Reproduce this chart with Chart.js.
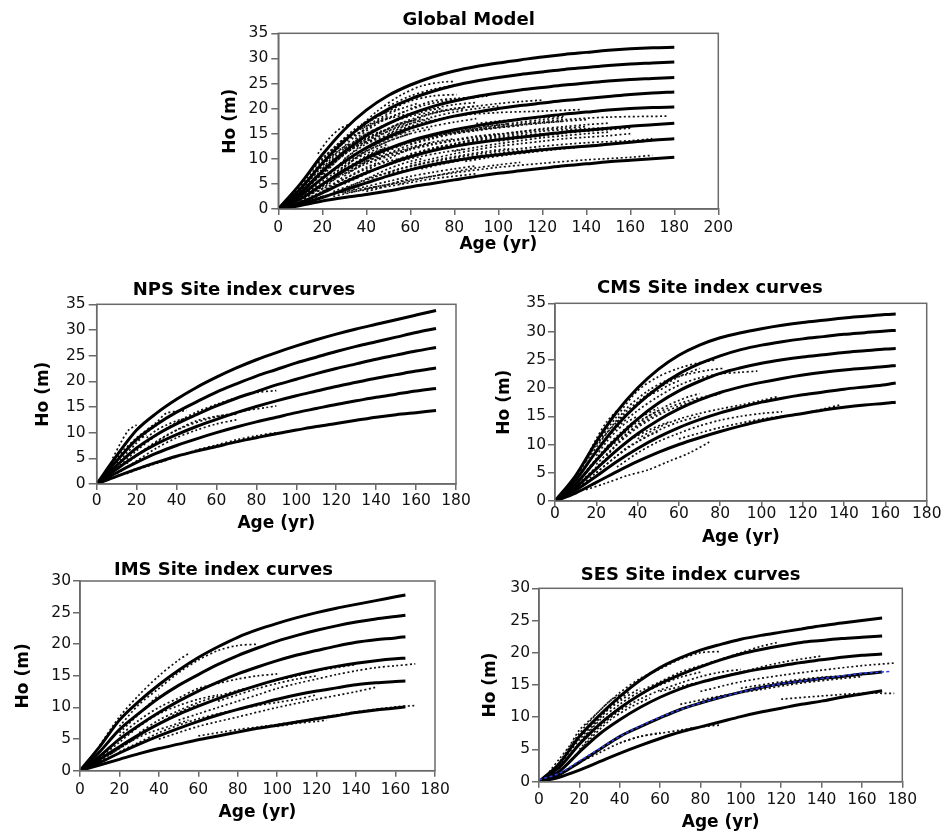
<!DOCTYPE html>
<html><head><meta charset="utf-8">
<script src="https://cdn.jsdelivr.net/npm/chart.js@4.4.1/dist/chart.umd.min.js"></script>
<style>
html,body{margin:0;padding:0;background:#fff;width:944px;height:836px;overflow:hidden;position:relative}
canvas{position:absolute}
</style></head><body>
<canvas id="cGlobal"></canvas>
<canvas id="cNPS"></canvas>
<canvas id="cCMS"></canvas>
<canvas id="cIMS"></canvas>
<canvas id="cSES"></canvas>
<script>
// ---------------- DATA ----------------
const xTicksGlobal = [0,20,40,60,80,100,120,140,160,180,200];
const xTicksRegion = [0,20,40,60,80,100,120,140,160,180];
const yTicks35 = [0,5,10,15,20,25,30,35];
const yTicks30 = [0,5,10,15,20,25,30];

// Global model: site index curves (age 0..180 step 10)
const globalAges = [0,10,20,30,40,50,60,70,80,90,100,110,120,130,140,150,160,170,180];
const globalCurves = [
  [0,5.0,10.8,15.8,19.7,22.6,24.7,26.3,27.5,28.4,29.1,29.7,30.3,30.8,31.2,31.6,31.9,32.1,32.2],
  [0,4.0,9.1,13.6,17.2,19.9,21.9,23.4,24.6,25.5,26.2,26.8,27.3,27.8,28.2,28.6,28.9,29.1,29.3],
  [0,3.2,7.5,11.4,14.6,17.0,18.9,20.4,21.5,22.4,23.1,23.7,24.2,24.7,25.1,25.5,25.8,26.0,26.2],
  [0,2.6,6.1,9.4,12.2,14.4,16.1,17.4,18.5,19.3,20.0,20.6,21.1,21.6,22.0,22.4,22.8,23.1,23.3],
  [0,2.0,4.9,7.7,10.1,12.0,13.6,14.8,15.8,16.6,17.3,17.9,18.4,18.9,19.3,19.7,20.0,20.2,20.3],
  [0,1.3,3.2,5.3,7.2,8.9,10.4,11.6,12.5,13.2,13.8,14.3,14.8,15.3,15.7,16.1,16.5,16.8,17.1],
  [0,1.0,2.3,3.8,5.2,6.6,7.8,8.8,9.6,10.3,10.8,11.3,11.8,12.2,12.5,12.9,13.3,13.7,14.0],
  [0,0.7,1.6,2.3,2.9,3.6,4.4,5.1,5.8,6.5,7.1,7.6,8.1,8.6,9.0,9.4,9.7,10.0,10.3]
];
// Global model: observed stem profiles [age, height]
const globalObs = [
  [[5,1.5],[15,6],[25,11],[35,15.5],[45,19.5],[55,22.5],[65,24.5],[75,25.3],[80,25.4]],
  [[10,4],[20,9],[30,13.5],[40,17],[50,19.5],[60,21.5],[70,22.5],[81,22.8]],
  [[10,5],[20,10],[30,14],[40,16.5],[50,18],[60,19],[70,20],[80,20.8],[90,21.2]],
  [[20,8],[30,12],[40,15],[50,17],[60,18.5],[70,19.3],[80,20],[90,20.5],[100,21],[110,21.4],[120,21.7]],
  [[40,13],[60,16.5],[80,18.5],[100,19.2],[120,19.5],[138,19.8]],
  [[50,12],[70,14.5],[90,16],[110,17],[130,17.8],[150,18.3],[177,18.5]],
  [[60,11],[80,13],[100,14.5],[120,15.5],[140,16],[160,16.4]],
  [[40,6],[60,8.5],[80,10.2],[100,11.5],[120,12.5],[140,13.2],[160,13.6],[170,14]],
  [[40,4],[60,5.8],[80,7.2],[100,8.3],[120,9.1],[140,9.8],[160,10.3],[170,10.7]],
  [[30,3.2],[50,4.5],[70,6],[90,7]],
  [[15,2],[25,3],[35,3.8],[45,4.5],[55,5.2]],
  [[10,2],[20,4],[30,6],[40,8],[50,9.5],[60,10.5]],
  [[10,3],[20,6],[30,9],[40,11.5],[50,13.5],[60,15],[70,16]],
  [[10,3.5],[20,7.5],[30,11],[40,13.5],[50,15.5],[60,17],[70,18]],
  [[15,5],[25,9],[35,12.5],[45,15],[55,17],[65,18.5],[75,19.5],[85,20]],
  [[20,6],[30,9.5],[40,12],[50,14],[60,15.5],[70,16.5],[80,17.3],[90,18]],
  [[25,5],[35,8],[45,10.5],[55,12.5],[65,14],[75,15],[85,15.8],[95,16.5],[105,17]],
  [[30,5],[40,7],[50,9],[60,10.5],[70,11.8],[80,12.8],[90,13.6],[100,14.2],[110,14.7],[120,15]],
  [[25,3.5],[35,5],[45,6.5],[55,8],[65,9],[75,10],[85,10.8],[95,11.5],[105,12]],
  [[20,2.5],[30,3.5],[40,4.5],[50,5.5],[60,6.5],[70,7.3],[80,8],[90,8.6]],
  [[5,2],[15,7],[25,12],[35,16],[45,18.5],[55,20]],
  [[10,2.5],[20,5],[30,7.5],[40,9.5],[50,11],[60,12.3],[70,13.3],[80,14]],
  [[30,7],[40,10],[50,12],[60,13.5],[70,14.5],[80,15.2],[90,15.8],[100,16.3],[110,16.8],[120,17.2],[130,17.5]],
  [[70,12],[80,13],[90,14],[100,14.8],[110,15.4],[120,16],[130,16.4],[140,16.8],[150,17.1]],
  [[60,9],[70,10],[80,11],[90,11.8],[100,12.5],[110,13],[120,13.5],[130,14],[140,14.3],[150,14.6],[160,15]],
  [[35,14],[45,17],[55,19],[65,20.5],[75,21.5],[85,22],[95,22.5]],
  [[18,11],[23,14],[28,16],[33,17]],
  [[15,2.5],[25,4.5],[35,6.5],[45,8],[55,9.5],[65,10.5],[75,11.3],[85,12]],
  [[5,1],[15,3.5],[25,6.5],[35,9],[45,11],[55,12.8],[65,14],[75,15]],
  [[40,9],[50,10.5],[60,11.8],[70,12.8],[80,13.6],[90,14.3],[100,14.9],[110,15.4],[120,15.8],[130,16.1],[140,16.4]],
  [[80,15],[90,15.6],[100,16.2],[110,16.7],[120,17.1],[130,17.5],[140,17.8]],
  [[50,7],[60,8],[70,9],[80,9.8],[90,10.5],[100,11.1],[110,11.6],[120,12]],
  [[30,10],[40,13],[50,15.5],[60,17.5],[70,19],[80,20],[90,20.5]],
  [[20,4.5],[30,7],[40,9],[50,10.8],[60,12],[70,13],[80,13.8],[90,14.5],[100,15]],
  [[5,1],[10,3],[15,5.5],[20,8],[25,10.5],[30,12.5],[35,14.5],[40,16],[45,17.5],[50,18.5]],
  [[10,1.5],[15,3],[20,4.5],[25,6],[30,7.5],[35,9],[40,10.5],[45,11.5],[50,12.5]],
  [[15,4],[20,5.5],[25,7],[30,8.5],[35,10],[40,11],[45,12],[50,13]],
  [[20,7],[25,9],[30,11],[35,12.5],[40,14],[45,15],[50,16],[55,17],[60,17.5],[65,18]],
  [[25,7],[30,8.5],[35,10],[40,11.5],[45,12.5],[50,13.5],[55,14.3],[60,15]],
  [[30,12],[35,13.5],[40,15],[45,16],[50,17],[55,18],[60,18.8],[65,19.3],[70,19.8],[75,20]],
  [[30,4],[35,5],[40,6],[45,7],[50,8],[55,8.8],[60,9.5],[65,10]],
  [[35,6],[40,7.5],[45,9],[50,10],[55,11],[60,12],[65,12.7],[70,13.3]],
  [[40,12],[45,13],[50,14],[55,15],[60,16],[65,16.8],[70,17.5],[80,18.5],[90,19.2],[100,19.8]],
  [[45,10],[50,11],[55,12],[60,12.8],[70,14],[80,15],[90,15.7],[100,16.2],[110,16.6]],
  [[50,15],[60,17],[70,18.3],[80,19.3],[90,20],[100,20.5]],
  [[55,5],[60,5.6],[70,6.5],[80,7.4],[90,8.2],[100,8.8],[110,9.3]],
  [[60,13],[70,14.2],[80,15.2],[90,16],[100,16.7],[110,17.3],[120,17.8],[130,18.2]],
  [[80,11.5],[90,12.3],[100,13],[110,13.6],[120,14.2],[130,14.6],[140,15],[150,15.3]],
  [[85,9.5],[95,10.2],[105,10.8],[115,11.3],[125,11.8],[135,12.2]],
  [[90,17],[100,17.5],[110,17.9],[120,18.2],[130,18.5]],
  [[12,2],[18,4],[24,6],[30,8],[36,9.5],[42,11],[48,12]],
  [[8,2],[14,4.5],[20,7],[26,9.5],[32,11.5],[38,13],[44,14]],
  [[22,10],[28,12.5],[34,14.5],[40,16],[46,17.5],[52,18.5],[58,19.5]],
  [[40,3.5],[45,4],[50,4.8],[55,5.5],[60,6]],
  [[25,2.5],[30,3],[35,3.5],[40,4],[45,4.5]],
  [[60,20],[70,21.5],[80,22],[90,22.3]],
  [[50,20.5],[60,22.5],[70,23.8],[78,24.5]],
  [[15,8],[20,10],[25,12],[30,13.5],[35,14.8],[40,15.8]],
  [[65,8],[75,9],[85,9.8],[95,10.5],[105,11],[115,11.5],[125,12],[135,12.4],[145,12.8],[155,13.1]],
  [[100,13.5],[110,14.1],[120,14.6],[130,15.1],[140,15.5],[150,15.8],[160,16.1]],
  [[12,3],[17,5],[22,7.5],[27,9.8],[32,11.8],[37,13.3],[42,14.6],[47,15.6]],
  [[18,3.5],[23,5],[28,6.8],[33,8.4],[38,9.8],[43,11],[48,12]],
  [[22,5.5],[27,7.2],[32,9],[37,10.8],[42,12.3],[47,13.5],[52,14.5],[57,15.3]],
  [[28,9],[33,11],[38,12.8],[43,14.3],[48,15.5],[53,16.5],[58,17.2],[63,17.8]],
  [[33,7.5],[38,9],[43,10.3],[48,11.5],[53,12.5],[58,13.3],[63,14]],
  [[8,2.8],[13,5.2],[18,7.8],[23,10],[28,11.8],[33,13.2]],
  [[45,8],[50,9],[55,10],[60,10.8],[65,11.5],[70,12.1],[75,12.6]],
  [[38,16],[43,17.3],[48,18.5],[53,19.5],[58,20.3],[63,21]],
  [[20,3.5],[25,4.8],[30,6],[35,7.2],[40,8.3],[45,9.2]],
  [[85,12.8],[95,13.5],[105,14.1],[115,14.6],[125,15.1],[135,15.5],[145,15.9]]
];

// NPS (age 0..170 step 10)
const npsAges = [0,10,20,30,40,50,60,70,80,90,100,110,120,130,140,150,160,170];
const npsCurves = [
  [0,5.5,10.5,13.8,16.5,18.8,20.8,22.6,24.2,25.6,26.9,28.1,29.2,30.2,31.1,32.0,32.9,33.8],
  [0,4.5,8.7,11.6,14.0,16.0,17.9,19.5,21.0,22.3,23.6,24.7,25.8,26.8,27.7,28.6,29.5,30.3],
  [0,3.6,7.0,9.6,11.7,13.5,15.2,16.7,18.0,19.3,20.4,21.5,22.5,23.4,24.3,25.1,25.9,26.6],
  [0,2.9,5.6,7.8,9.6,11.2,12.6,13.9,15.1,16.2,17.2,18.1,19.0,19.8,20.6,21.3,22.0,22.6],
  [0,2.2,4.2,6.0,7.5,8.8,10.0,11.1,12.1,13.0,13.9,14.7,15.5,16.2,16.9,17.5,18.1,18.6],
  [0,1.5,2.9,4.2,5.4,6.4,7.3,8.2,9.0,9.8,10.5,11.2,11.8,12.4,13.0,13.5,13.9,14.3]
];
const npsObs = [
  [[8,5],[12,8],[16,10.5],[20,11.5]],
  [[10,3],[20,6.5],[30,9.5],[40,12],[50,14],[60,15.5],[70,16.8],[80,17.8],[90,18.2]],
  [[15,4],[25,7],[35,9.5],[45,11.3],[55,12.6],[65,13.5],[75,14.3],[85,14.9],[90,15.2]],
  [[10,2],[20,4.5],[30,7],[40,9],[50,10.5],[60,11.7],[70,12.5]],
  [[15,2],[20,2.8],[30,4],[40,5.3],[50,6.6],[60,7.6],[70,8.6],[80,9.4],[90,10]],
  [[12,6],[20,9],[30,12],[35,13.8],[45,14.3]],
  [[5,2.5],[10,5],[15,7],[20,8.5],[25,9.5]],
  [[10,1.5],[15,2.2],[20,3],[30,4.2],[35,4.8]],
  [[20,5.5],[30,8.2],[40,10.5],[50,12.3],[60,13.2],[70,13.6]],
  [[10,4],[15,6],[20,8],[25,10],[30,11.5]],
  [[25,9],[30,10.5],[35,11.5],[40,12.3],[45,12.8]]
];

// CMS (age 0..160 step 10, then 165)
const cmsAges = [0,10,20,30,40,50,60,70,80,90,100,110,120,130,140,150,160,165];
const cmsCurves = [
  [0,4.5,10.5,15.8,20.0,23.3,25.8,27.6,28.9,29.8,30.5,31.1,31.6,32.0,32.4,32.7,33.0,33.1],
  [0,3.7,8.8,13.4,17.1,20.1,22.5,24.3,25.7,26.8,27.6,28.2,28.7,29.1,29.5,29.8,30.1,30.2],
  [0,3.0,7.2,11.1,14.5,17.3,19.5,21.2,22.6,23.6,24.4,25.0,25.5,25.9,26.3,26.6,26.9,27.0],
  [0,2.4,5.7,9.0,11.9,14.3,16.3,17.9,19.2,20.2,21.0,21.7,22.3,22.8,23.2,23.5,23.8,24.0],
  [0,1.9,4.4,7.0,9.3,11.3,13.0,14.4,15.6,16.6,17.5,18.2,18.8,19.3,19.8,20.2,20.6,20.9],
  [0,1.4,3.3,5.2,7.0,8.6,10.0,11.2,12.3,13.3,14.2,14.9,15.5,16.1,16.6,17.0,17.3,17.5]
];
const cmsObs = [
  [[10,4],[20,10],[30,15],[40,19.5],[50,22],[60,23.5],[70,24.5],[78,25]],
  [[15,7],[25,12],[35,16.5],[45,19.5],[55,21.5],[65,22.5],[75,23.2],[82,23.5]],
  [[20,9],[30,13],[40,16],[50,18.5],[60,20.5],[70,21.8],[80,22.5],[90,22.8],[98,23]],
  [[15,5],[25,9],[35,12],[45,14.5],[55,16.5],[65,17.8],[75,18.7]],
  [[20,6.5],[30,10],[40,13],[50,15.2],[60,16.8],[70,18],[80,19]],
  [[40,11],[50,13],[60,14.5],[70,15.5],[80,16.3],[90,17],[100,17.8],[108,18.5]],
  [[30,6],[40,8.5],[50,10.5],[60,12],[70,13.3],[80,14.3],[90,15],[100,15.5],[110,15.8]],
  [[60,11],[80,13],[100,14.5],[120,15.5],[138,17]],
  [[15,2],[25,3.2],[35,4.5],[45,5.5],[55,7],[65,8.5],[75,10.5]],
  [[10,2],[20,5],[30,8],[40,10.5],[50,12.5],[60,14],[70,15]],
  [[5,1.5],[10,4],[15,7.5],[20,11],[25,14],[30,16]],
  [[10,3],[20,7.5],[30,11.5],[40,14.5],[50,16.5]],
  [[20,8],[25,10.5],[30,12.5],[35,14],[40,15]],
  [[15,4],[25,7.5],[35,10.5],[45,12.5],[55,14]],
  [[10,2.5],[20,6],[30,9],[35,10.5]],
  [[25,8],[30,10],[35,12],[40,13.5],[45,15],[50,16]],
  [[20,10],[25,12],[30,14],[35,15.5],[40,17],[45,18.5],[50,19.5],[55,20.5],[60,21.3]],
  [[25,9.5],[30,11],[35,12.5],[40,14],[45,15],[50,16],[55,17],[60,17.8],[65,18.5],[70,19]],
  [[20,5],[25,6.5],[30,8],[35,9.5],[40,10.5],[45,11.5],[50,12.3]],
  [[30,14],[35,16],[40,17.5],[45,19],[50,20],[55,21],[60,22],[70,23.5]]
];

// IMS (age 0..160 step 10, then 165)
const imsAges = [0,10,20,30,40,50,60,70,80,90,100,110,120,130,140,150,160,165];
const imsCurves = [
  [0,3.8,8.0,11.0,13.6,15.9,17.9,19.6,21.1,22.3,23.3,24.2,25.0,25.7,26.3,26.9,27.5,27.8],
  [0,3.0,6.5,9.1,11.5,13.5,15.2,16.8,18.2,19.4,20.5,21.4,22.2,22.9,23.5,24.0,24.4,24.6],
  [0,2.3,5.0,7.2,9.2,11.0,12.6,14.0,15.3,16.4,17.4,18.3,19.0,19.7,20.3,20.7,21.0,21.2],
  [0,1.8,3.8,5.7,7.4,8.9,10.2,11.4,12.5,13.5,14.4,15.2,15.9,16.5,17.0,17.4,17.7,17.8],
  [0,1.3,2.8,4.2,5.5,6.7,7.8,8.8,9.7,10.5,11.3,12.0,12.6,13.1,13.6,13.9,14.1,14.2],
  [0,0.9,1.8,2.7,3.5,4.2,4.9,5.5,6.1,6.7,7.2,7.7,8.2,8.7,9.2,9.6,9.9,10.1]
];
const imsObs = [
  [[10,4],[20,8.5],[30,12],[40,15],[50,17.5],[55,18.5]],
  [[20,7],[30,10.5],[40,13],[50,15.5],[60,17.5],[70,19],[80,19.8],[90,20]],
  [[20,5.5],[30,8],[40,10],[50,11.5],[60,13],[70,13.8],[80,14.5],[90,15],[100,15.3]],
  [[30,6],[40,8],[50,9.5],[60,10.8],[70,11.8],[80,12.7],[90,13.5],[100,14.3],[110,15],[120,15.8],[130,16.3],[140,16.8]],
  [[50,8],[60,9],[70,10],[80,11],[90,12],[100,13],[110,13.8],[120,14.5],[130,15.2],[140,15.8],[150,16.3],[160,16.6],[170,16.9]],
  [[40,5],[60,7],[80,8.5],[100,10],[120,11.3],[140,12.5],[150,13.2]],
  [[20,3],[30,4.5],[40,6],[50,7.2],[60,8.2],[70,9],[80,9.7],[90,10.3],[100,10.8],[110,11.3],[120,12]],
  [[60,5.5],[80,6.5],[100,7.3],[120,8.3],[140,9.3],[160,10.1],[170,10.3]],
  [[10,2],[20,4.5],[30,7],[40,9],[50,10.3],[60,11.3],[70,12]],
  [[15,2.5],[25,4.5],[35,6],[45,7],[55,8]],
  [[10,1.5],[20,3.5],[30,5.5],[40,7.5],[50,9.2],[60,10.5]],
  [[100,7],[110,7.5],[120,7.8],[125,8]],
  [[70,11],[80,12],[90,13],[100,13.8],[110,14.5],[120,15]],
  [[20,6],[25,7.5],[30,9],[35,10.5],[40,12]]
];

// SES (age 0..170 step 10)
const sesAges = [0,10,20,30,40,50,60,70,80,90,100,110,120,130,140,150,160,170];
const sesCurves = [
  [0,2.8,7.0,10.3,13.2,15.7,17.7,19.2,20.4,21.3,22.1,22.7,23.2,23.7,24.2,24.6,25.0,25.4],
  [0,2.2,5.8,8.9,11.4,13.5,15.2,16.6,17.8,18.9,19.8,20.5,21.1,21.6,21.9,22.2,22.4,22.6],
  [0,1.6,4.6,7.4,9.6,11.5,13.1,14.4,15.4,16.2,16.9,17.5,18.0,18.5,18.9,19.3,19.6,19.8],
  [0,1.1,3.0,5.0,7.0,8.5,9.9,11.2,12.2,13.1,13.9,14.6,15.2,15.6,16.0,16.3,16.7,17.0],
  [0,0.7,1.8,3.1,4.4,5.6,6.7,7.7,8.5,9.3,10.1,10.8,11.4,12.0,12.5,13.1,13.6,14.1]
];
// SES: blue dashed mean curve
const sesBlueAges = [0,10,20,30,40,50,60,70,80,90,100,110,120,130,140,150,160,174];
const sesBlue = [0.3,1.3,3.2,5.1,7.0,8.6,10.0,11.2,12.2,13.1,13.9,14.6,15.2,15.6,16.0,16.4,16.8,17.1];
const sesObs = [
  [[5,1],[10,3],[20,7.5],[30,11],[40,13.8],[50,16],[60,17.5],[70,19],[80,20],[90,20.2]],
  [[10,2],[20,6],[30,9.5],[40,12],[50,14],[60,15.5],[70,17],[80,18],[90,19],[100,20],[110,21],[118,21.6]],
  [[20,5],[30,8.5],[40,11],[50,12.8],[60,14.2],[70,15.3],[80,16.3],[90,17],[100,17.4]],
  [[60,14],[80,15.5],[100,17],[120,18.5],[140,19.5]],
  [[80,14],[100,15.5],[120,16.5],[140,17.3],[160,18],[176,18.4]],
  [[70,12],[90,13.3],[110,14.3],[130,15.3],[150,16],[160,16.3]],
  [[40,6],[50,7],[60,7.5],[70,8],[80,8.5],[90,8.8]],
  [[20,3],[30,4.5],[40,6],[50,7],[60,7.6]],
  [[120,12.8],[140,13.3],[160,13.7],[176,13.7]],
  [[5,1.5],[10,3.5],[15,5.5],[20,8],[25,9.5],[30,11],[35,12.5],[40,13.5]],
  [[10,2.5],[20,6.5],[30,10],[40,12.5],[50,14.5]],
  [[15,3],[25,6.5],[35,9.5],[45,11.5],[55,13]],
  [[100,14.5],[120,15.5],[140,16.2],[160,16.5]],
  [[30,9],[40,11.5],[50,13.5],[60,15],[70,16.2],[80,17]],
  [[15,4],[20,6],[25,8],[30,9.8],[35,11.5],[40,12.8],[45,14]]
];

// ---------------- BUILD ----------------
const FONT = '"DejaVu Sans", Verdana, sans-serif';
const AXIS = '#6a6a6a';

function solidSets(ages, curves){
  return curves.map(c => ({
    data: c.map((v,i)=>({x:ages[i], y:v})),
    showLine:true, borderColor:'#000', borderWidth:3, pointRadius:0,
    cubicInterpolationMode:'monotone', borderCapStyle:'butt', fill:false
  }));
}
function obsSets(obs){
  return obs.map(o => ({
    data: o.map(p=>({x:p[0], y:p[1]})),
    showLine:true, borderColor:'#111', borderWidth:1.7, borderDash:[2,2.5],
    pointRadius:0, tension:0.3, fill:false
  }));
}
const framePlugin = {
  id:'frame',
  afterDraw(chart){
    const a = chart.chartArea, ctx = chart.ctx;
    ctx.save(); ctx.strokeStyle = AXIS; ctx.lineWidth = 1.5;
    ctx.strokeRect(a.left, a.top, a.right-a.left, a.bottom-a.top);
    ctx.restore();
  }
};

function makeChart(p, datasets){
  const cv = document.getElementById(p.id);
  cv.width = p.w; cv.height = p.h;
  cv.style.left = p.left+'px'; cv.style.top = p.top+'px';
  cv.style.width = p.w+'px'; cv.style.height = p.h+'px';
  new Chart(cv, {
    type:'scatter',
    data:{datasets},
    plugins:[framePlugin],
    options:{
      responsive:false, animation:false, devicePixelRatio:1,
      layout:{padding:{left:0, right:p.padR, top:0, bottom:0}},
      plugins:{
        legend:{display:false}, tooltip:{enabled:false},
        title:{display:true, text:p.title, color:'#000',
          font:{family:FONT, size:18, weight:'bold', lineHeight:1},
          padding:{top:0, bottom:p.titlePad}}
      },
      scales:{
        x:{type:'linear', min:0, max:p.xTicks[p.xTicks.length-1],
          afterBuildTicks(s){ s.ticks = p.xTicks.map(v=>({value:v})); },
          afterFit(s){ s.height = p.xH; },
          grid:{display:true, drawOnChartArea:false, drawTicks:true, tickLength:p.xTL, color:AXIS, lineWidth:1.5},
          border:{display:true, color:AXIS, width:1.5},
          ticks:{autoSkip:false, maxRotation:0, minRotation:0, padding:p.xPad, color:'#111',
            font:{family:FONT, size:15.5, lineHeight:1}},
          title:{display:true, text:'Age (yr)', color:'#000', padding:{top:0,bottom:1},
            font:{family:FONT, size:17, weight:'bold'}}
        },
        y:{type:'linear', min:0, max:p.yTicks[p.yTicks.length-1],
          afterBuildTicks(s){ s.ticks = p.yTicks.map(v=>({value:v})); },
          afterFit(s){ s.width = p.yW; },
          grid:{display:true, drawOnChartArea:false, drawTicks:true, tickLength:p.yTL, color:AXIS, lineWidth:1.5},
          border:{display:true, color:AXIS, width:1.5},
          ticks:{padding:p.yPad, color:'#111', font:{family:FONT, size:15.5, lineHeight:1}},
          title:{display:true, text:'Ho (m)', color:'#000', padding:{top:1,bottom:0},
            font:{family:FONT, size:17, weight:'bold'}}
        }
      }
    }
  });
}

makeChart({id:'cGlobal', left:219, top:11, w:546, h:245, title:'Global Model', titlePad:4.3,
  yW:59.3, xH:47, padR:46.7, xTicks:xTicksGlobal, yTicks:yTicks35, xTL:6, xPad:5.2, yTL:7, yPad:3},
  [...solidSets(globalAges, globalCurves), ...obsSets(globalObs)]);

makeChart({id:'cNPS', left:32, top:281, w:483, h:254, title:'NPS Site index curves', titlePad:5.3,
  yW:64.7, xH:51, padR:59, xTicks:xTicksRegion, yTicks:yTicks35, xTL:6, xPad:2.9, yTL:8, yPad:3},
  [...solidSets(npsAges, npsCurves), ...obsSets(npsObs)]);

makeChart({id:'cCMS', left:493, top:279, w:474, h:270, title:'CMS Site index curves', titlePad:6.3,
  yW:62, xH:48, padR:40.3, xTicks:xTicksRegion, yTicks:yTicks35, xTL:5, xPad:0.7, yTL:7, yPad:2},
  [...solidSets(cmsAges, cmsCurves), ...obsSets(cmsObs)]);

makeChart({id:'cIMS', left:12, top:561, w:454, h:263, title:'IMS Site index curves', titlePad:2,
  yW:68, xH:53.3, padR:31, xTicks:xTicksRegion, yTicks:yTicks30, xTL:6, xPad:5.5, yTL:7, yPad:2},
  [...solidSets(imsAges, imsCurves), ...obsSets(imsObs)]);

makeChart({id:'cSES', left:479, top:566, w:462, h:268, title:'SES Site index curves', titlePad:4.3,
  yW:60, xH:52.3, padR:38.7, xTicks:xTicksRegion, yTicks:yTicks30, xTL:6, xPad:4.5, yTL:7, yPad:2},
  [{data: sesBlue.map((v,i)=>({x:sesBlueAges[i], y:v})), showLine:true, borderColor:'#2a3cf0',
    borderWidth:1.6, borderDash:[3,2.5], pointRadius:0, cubicInterpolationMode:'monotone', fill:false},
   ...solidSets(sesAges, sesCurves), ...obsSets(sesObs)]);
</script></body></html>
